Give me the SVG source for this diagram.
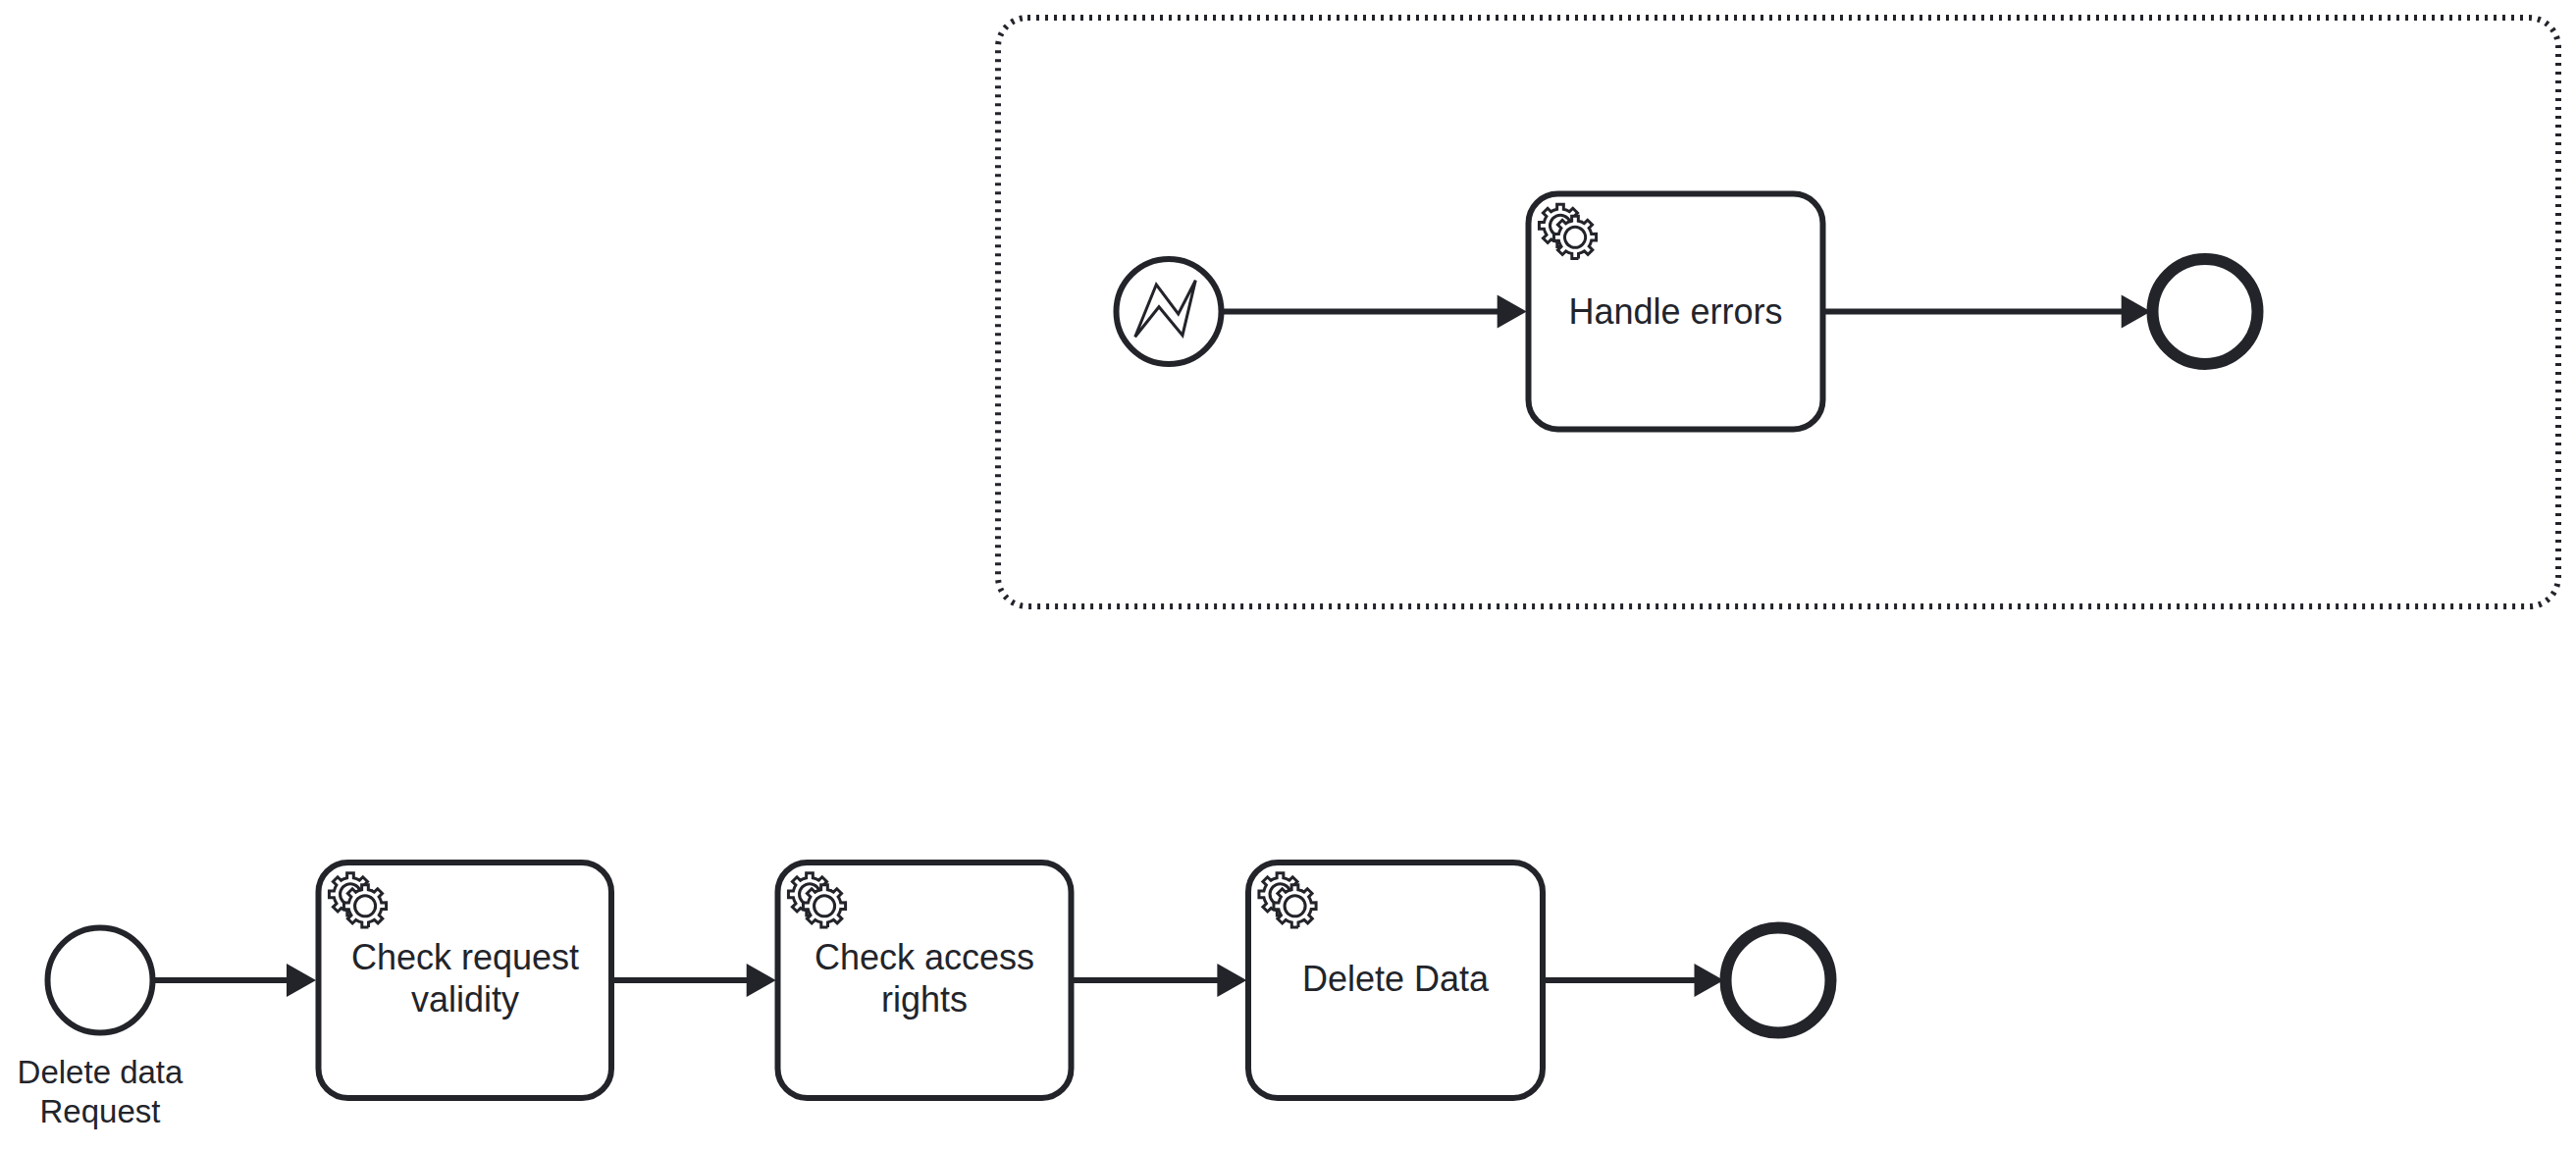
<svg xmlns="http://www.w3.org/2000/svg" xmlns:xlink="http://www.w3.org/1999/xlink" width="2625" height="1173" viewBox="0 0 2625 1173">
<style>
.s{fill:#fff;stroke:#22242a;stroke-width:6}
.e{fill:#fff;stroke:#22242a;stroke-width:12}
.f{fill:none;stroke:#22242a;stroke-width:6}
.g{fill:#fff;stroke:#22242a;stroke-width:1}
.t{font-family:"Liberation Sans",Arial,sans-serif;font-size:36px;fill:#22242a;text-anchor:middle}
.l{font-size:33px}
</style>
<defs>
<marker id="a" markerUnits="userSpaceOnUse" markerWidth="40" markerHeight="40" refX="5" refY="20" orient="auto" overflow="visible"><path d="M0,3 L30,20 L0,37 Z" fill="#22242a"/></marker>
<path id="gp" d="m 0,0 v -1.71335 c 0.352326,-0.0705 0.703932,-0.17838 1.047628,-0.32133 0.344416,-0.14465 0.665822,-0.32133 0.966377,-0.52145 l 1.19431,1.18005 1.567487,-1.57688 -1.195028,-1.18014 c 0.403376,-0.61394 0.683079,-1.29908 0.825447,-2.01824 l 1.622133,-0.01 v -2.2196 l -1.636514,0.01 c -0.07333,-0.35153 -0.178319,-0.70024 -0.323564,-1.04372 -0.145244,-0.34406 -0.321407,-0.6644 -0.522735,-0.96217 l 1.131035,-1.13631 -1.583305,-1.56293 -1.129598,1.13589 c -0.614052,-0.40108 -1.302883,-0.68093 -2.022633,-0.82247 l 0.0093,-1.61852 h -2.241173 l 0.0042,1.63124 c -0.353763,0.0736 -0.705369,0.17977 -1.049785,0.32371 -0.344415,0.14437 -0.665102,0.32092 -0.9635006,0.52046 l -1.1698628,-1.15823 -1.5667691,1.5792 1.1684265,1.15669 c -0.4026573,0.61283 -0.68308,1.29797 -0.8247287,2.01713 l -1.6588041,0.003 v 2.22174 l 1.6724648,-0.006 c 0.073327,0.35077 0.1797598,0.70243 0.3242851,1.04472 0.1452428,0.34448 0.3214064,0.6644 0.5227339,0.96066 l -1.1993431,1.19723 1.5840256,1.56011 1.1964668,-1.19348 c 0.6140517,0.40346 1.3028827,0.68232 2.0233517,0.82331 l 7.19e-4,1.69892 h 2.226848 z m 0.221462,-3.9957 c -1.788948,0.7502 -3.8576,-0.0928 -4.6097055,-1.87438 -0.7521065,-1.78321 0.090598,-3.84627 1.8802645,-4.59604 1.78823,-0.74936 3.856881,0.0929 4.608987,1.87437 0.752106,1.78165 -0.0906,3.84612 -1.879546,4.59605 z"/>
<g id="gear">
<use xlink:href="#gp" href="#gp" class="g" transform="scale(3) translate(12 18)"/>
<path fill="#fff" transform="scale(3) translate(17.2 18)" d="m 0,0 c -1.788948,0.7502 -3.8576,-0.0928 -4.6097055,-1.87438 -0.7521065,-1.78321 0.090598,-3.84627 1.8802645,-4.59604 1.78823,-0.74936 3.856881,0.0929 4.608987,1.87437 0.752106,1.78165 -0.0906,3.84612 -1.879546,4.59605 z"/>
<use xlink:href="#gp" href="#gp" class="g" transform="scale(3) translate(17 22)"/>
</g>
</defs>
<rect width="2625" height="1173" fill="#fff"/>
<g id="subprocess"><rect x="1017" y="18" width="1590" height="600" rx="30" ry="30" fill="#fff" stroke="#22242a" stroke-width="6" stroke-dasharray="3 6"/></g>
<g id="connectors">
<path class="f" marker-end="url(#a)" d="M1247,317.5 H1530.7"/>
<path class="f" marker-end="url(#a)" d="M1858,317.5 H2166.7"/>
<path class="f" marker-end="url(#a)" d="M158,999 H297"/>
<path class="f" marker-end="url(#a)" d="M624,999 H765.7"/>
<path class="f" marker-end="url(#a)" d="M1092,999 H1245.4"/>
<path class="f" marker-end="url(#a)" d="M1572,999 H1731.5"/>
</g>
<g id="error-start"><circle class="s" cx="1191" cy="317.5" r="53.5"/><path d="M1156.7,343.3 L1178.3,290 L1200.7,320 L1218.3,285.7 L1205,341.7 L1181,312.7 Z" fill="#fff" stroke="#22242a" stroke-width="3"/></g>
<g id="handle-errors" transform="translate(1557.5 197.5)"><rect class="s" width="300" height="240" rx="30"/><use xlink:href="#gear" href="#gear"/><text class="t" x="150" y="132.5">Handle errors</text></g>
<g id="error-end"><circle class="e" cx="2247" cy="317.5" r="53.5"/></g>
<g id="start"><circle class="s" cx="102" cy="999" r="53.5"/><text class="t l" x="102" y="1103.5">Delete data</text><text class="t l" x="102" y="1143.5">Request</text></g>
<g id="check-validity" transform="translate(324.5 879)"><rect class="s" width="298.5" height="240" rx="30"/><use xlink:href="#gear" href="#gear"/><text class="t" x="149.5" y="109">Check request</text><text class="t" x="149.5" y="152">validity</text></g>
<g id="check-rights" transform="translate(792.5 879)"><rect class="s" width="299" height="240" rx="30"/><use xlink:href="#gear" href="#gear"/><text class="t" x="149.5" y="109">Check access</text><text class="t" x="149.5" y="152">rights</text></g>
<g id="delete-data" transform="translate(1272 879)"><rect class="s" width="300" height="240" rx="30"/><use xlink:href="#gear" href="#gear"/><text class="t" x="150" y="131">Delete Data</text></g>
<g id="end"><circle class="e" cx="1812" cy="999" r="53.5"/></g>
</svg>
